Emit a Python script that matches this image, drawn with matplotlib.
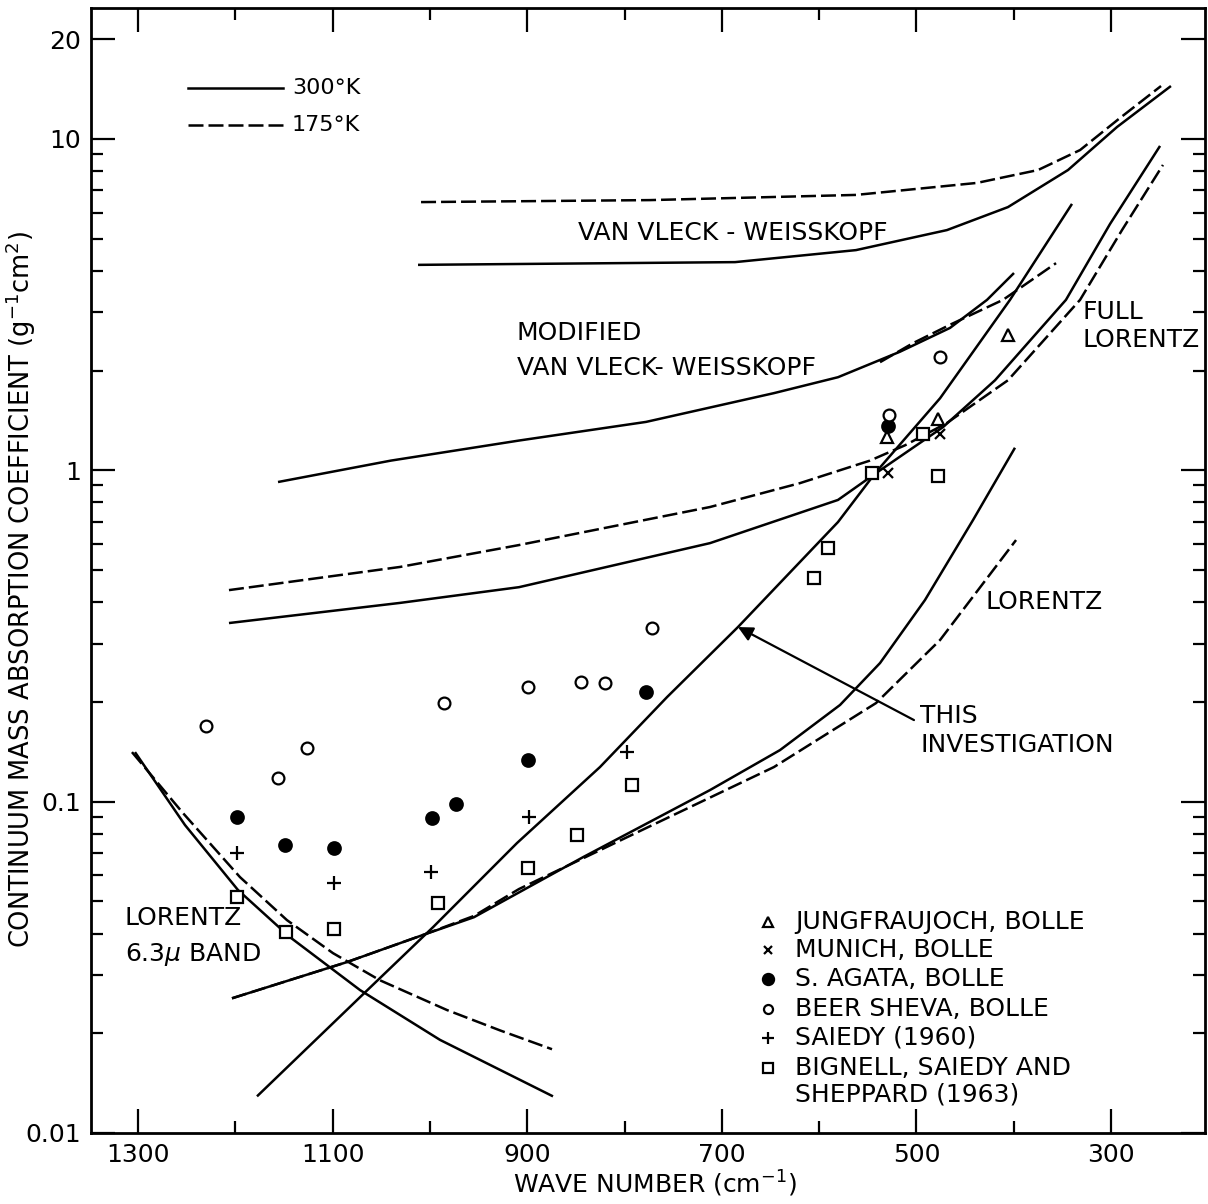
import numpy as np
import matplotlib.pyplot as plt
from matplotlib.ticker import NullFormatter

plt.rcParams['font.family'] = ['DejaVu Sans']

# ── curves (wave number in cm^-1, coefficient in g^-1 cm^2) ──────────
vvw_300_x = [1012.2, 686.4, 562.1, 468.6, 405.9, 344.2, 293.8, 238.4]
vvw_300_y = [4.17, 4.25, 4.62, 5.31, 6.23, 8.06, 10.87, 14.45]
vvw_175_x = [1009.1, 773.8, 562.1, 437.7, 375.0, 331.8, 290.8, 248.6]
vvw_175_y = [6.45, 6.54, 6.78, 7.37, 8.06, 9.26, 11.57, 14.45]

mvvw_300_x = [1156.1, 1040.0, 908.4, 777.9, 646.4, 580.6, 516.9, 465.5, 427.4, 399.7]
mvvw_300_y = [0.922, 1.07, 1.23, 1.40, 1.71, 1.91, 2.28, 2.69, 3.27, 3.94]
mvvw_175_x = [537.4, 503.5, 465.5, 411.0, 356.5]
mvvw_175_y = [2.12, 2.42, 2.75, 3.27, 4.22]

full_300_x = [1206.5, 1030.7, 908.4, 712.1, 580.6, 541.5, 472.7, 419.2, 346.3, 301.0, 249.6]
full_300_y = [0.346, 0.398, 0.444, 0.603, 0.814, 0.981, 1.35, 1.87, 3.27, 5.54, 9.53]
full_175_x = [1206.5, 1030.7, 908.4, 712.1, 619.6, 547.7, 511.7, 468.6, 405.9, 331.8, 288.7, 246.6]
full_175_y = [0.435, 0.511, 0.595, 0.775, 0.915, 1.07, 1.19, 1.39, 1.87, 3.27, 5.31, 8.35]

lor_300_x = [1203.4, 1085.2, 1007.1, 954.7, 842.6, 712.1, 640.2, 578.5, 537.4, 491.2, 441.8, 398.7]
lor_300_y = [0.0255, 0.0328, 0.0396, 0.0448, 0.068, 0.1084, 0.1431, 0.1958, 0.262, 0.406, 0.708, 1.17]
lor_175_x = [1203.4, 1085.2, 1007.1, 954.7, 908.4, 777.9, 646.4, 541.5, 475.7, 397.6]
lor_175_y = [0.0255, 0.0328, 0.0396, 0.0452, 0.0545, 0.0832, 0.1272, 0.1984, 0.3075, 0.616]

band_300_x = [1303.1, 1251.7, 1197.2, 1143.8, 1071.8, 989.6, 873.5]
band_300_y = [0.1411, 0.0850, 0.0541, 0.0390, 0.0270, 0.0191, 0.0129]
band_175_x = [1306.2, 1253.8, 1195.2, 1146.9, 1099.6, 1051.3, 982.4, 927.9, 874.5]
band_175_y = [0.1411, 0.0924, 0.0592, 0.0439, 0.0349, 0.0289, 0.0235, 0.0204, 0.0179]

this_x = [1177.7, 1071.8, 996.8, 910.5, 825.2, 756.3, 683.4, 580.6, 541.5, 475.7, 403.8, 340.1]
this_y = [0.0129, 0.0257, 0.0418, 0.0750, 0.1272, 0.2068, 0.3365, 0.698, 0.988, 1.65, 3.27, 6.37]

# ── measurements ─────────────────────────────────────────────────────
jung_x = [530.2, 477.8, 405.9]
jung_y = [1.26, 1.43, 2.56]
munich_x = [529.2, 475.7]
munich_y = [0.981, 1.29]
agata_x = [1198.3, 1148.9, 1098.6, 997.8, 973.2, 899.2, 777.9, 529.2]
agata_y = [0.0898, 0.0740, 0.0724, 0.0892, 0.0984, 0.1335, 0.2142, 1.36]
beer_x = [1230.1, 1126.3, 1156.1, 985.5, 899.2, 844.7, 820.0, 771.7, 528.2, 475.7]
beer_y = [0.169, 0.145, 0.1178, 0.1984, 0.2218, 0.2296, 0.228, 0.334, 1.47, 2.20]
saiedy_x = [1198.3, 1098.2, 998.9, 897.8, 797.7]
saiedy_y = [0.0698, 0.0567, 0.0614, 0.090, 0.1409]
bignell_x = [1198.3, 1148.2, 1098.2, 991.4, 898.9, 848.5, 792.0, 605.7, 590.6, 545.9, 492.9, 477.5]
bignell_y = [0.0516, 0.0403, 0.0414, 0.0495, 0.0632, 0.0793, 0.1122, 0.472, 0.582, 0.979, 1.29, 0.961]

x_major = [1300, 1100, 900, 700, 500, 300]
x_minor = [1200, 1000, 800, 600, 400]
y_major = [0.01, 0.1, 1, 10, 20]
y_labels = ['0.01', '0.1', '1', '10', '20']

LW = 1.8
DASH = (6, 2)

fig = plt.figure(figsize=(12.08, 12.04), dpi=100)
ax = fig.add_axes([91 / 1208, 1 - 1133 / 1204, 1114 / 1208, 1124.7 / 1204])
ax.set_yscale('log')


def solid(x, y):
    ax.plot(x, y, color='black', lw=LW, solid_capstyle='butt')


def dashed(x, y):
    ax.plot(x, y, color='black', lw=LW, dashes=DASH)


solid(vvw_300_x, vvw_300_y)
dashed(vvw_175_x, vvw_175_y)
solid(mvvw_300_x, mvvw_300_y)
dashed(mvvw_175_x, mvvw_175_y)
solid(full_300_x, full_300_y)
dashed(full_175_x, full_175_y)
solid(lor_300_x, lor_300_y)
dashed(lor_175_x, lor_175_y)
solid(band_300_x, band_300_y)
dashed(band_175_x, band_175_y)
solid(this_x, this_y)

# data points
mk = dict(linestyle='none', color='black', markeredgewidth=1.6)
ax.plot(jung_x, jung_y, marker='^', ms=8, mfc='white', **mk)
ax.plot(munich_x, munich_y, marker='x', ms=7.5, **mk)
ax.plot(agata_x, agata_y, marker='o', ms=9, mfc='black', **mk)
ax.plot(beer_x, beer_y, marker='o', ms=8.5, mfc='white', **mk)
ax.plot(saiedy_x, saiedy_y, marker='+', ms=10, **mk)
ax.plot(bignell_x, bignell_y, marker='s', ms=8, mfc='white', **mk)

# curve labels
fs = 18
ax.text(847.8, 5.2, 'VAN VLECK - WEISSKOPF', fontsize=fs, va='center')
ax.text(910.5, 2.60, 'MODIFIED', fontsize=fs, va='center')
ax.text(910.5, 2.04, 'VAN VLECK- WEISSKOPF', fontsize=fs, va='center')
ax.text(328.8, 3.0, 'FULL', fontsize=fs, va='center')
ax.text(328.8, 2.47, 'LORENTZ', fontsize=fs, va='center')
ax.text(429.5, 0.40, 'LORENTZ', fontsize=fs, va='center')
ax.text(496.3, 0.1813, 'THIS', fontsize=fs, va='center')
ax.text(496.3, 0.148, 'INVESTIGATION', fontsize=fs, va='center')
ax.text(1313.4, 0.0445, 'LORENTZ', fontsize=fs, va='center')
ax.text(1313.4, 0.0345, r'6.3$\mu$ BAND', fontsize=fs, va='center')

ax.annotate('', xy=(683.4, 0.3365), xytext=(502.5, 0.1763),
            arrowprops=dict(arrowstyle='-|>', color='black', lw=1.6,
                            mutation_scale=22, shrinkA=0, shrinkB=0))

# temperature key
ax.plot([0.0871, 0.1724], [0.9291, 0.9291], color='black', lw=LW,
        transform=ax.transAxes)
ax.plot([0.0871, 0.1724], [0.8962, 0.8962], color='black', lw=LW,
        dashes=DASH, transform=ax.transAxes)
ax.text(0.1804, 0.9291, '300°K', fontsize=16, va='center', transform=ax.transAxes)
ax.text(0.1804, 0.8962, '175°K', fontsize=16, va='center', transform=ax.transAxes)

# symbol key
key_rows = [0.1876, 0.1627, 0.1369, 0.1103, 0.0845, 0.0578]
key_marks = [('^', 'white', 6.5), ('x', 'black', 6), ('o', 'black', 8),
             ('o', 'white', 6.5), ('+', 'black', 8), ('s', 'white', 6.5)]
key_text = ['JUNGFRAUJOCH, BOLLE', 'MUNICH, BOLLE', 'S. AGATA, BOLLE',
            'BEER SHEVA, BOLLE', 'SAIEDY (1960)', 'BIGNELL, SAIEDY AND']
for yy, (m, fc, s), t in zip(key_rows, key_marks, key_text):
    ax.plot([0.6077], [yy], marker=m, ms=s, mfc=fc, transform=ax.transAxes, **mk)
    ax.text(0.632, yy, t, fontsize=fs, va='center', transform=ax.transAxes)
ax.text(0.632, 0.0338, 'SHEPPARD (1963)', fontsize=fs, va='center',
        transform=ax.transAxes)

# axes
ax.set_xlim(1348.3, 203.4)
ax.set_ylim(0.01, 24.8)
ax.set_xticks(x_major)
ax.set_xticks(x_minor, minor=True)
ax.set_yticks(y_major)
ax.set_yticklabels(y_labels)
y_minor = [k * 10.0 ** d for d in (-2, -1, 0, 1) for k in range(2, 10)]
ax.set_yticks([v for v in y_minor if v < 24.8 and v != 20], minor=True)
ax.yaxis.set_minor_formatter(NullFormatter())
ax.tick_params(which='both', direction='in', top=True, right=True,
               width=1.6, labelsize=18)
ax.tick_params(which='major', length=17, pad=7)
ax.tick_params(which='minor', length=8.5)
for sp in ax.spines.values():
    sp.set_linewidth(2)

ax.set_xlabel(r'WAVE NUMBER (cm$^{-1}$)', fontsize=18)
ax.xaxis.set_label_coords(0.506, -0.032)
ax.set_ylabel(r'CONTINUUM MASS ABSORPTION COEFFICIENT (g$^{-1}$cm$^{2}$)',
              fontsize=18.5)
ax.yaxis.set_label_coords(-0.048, 0.483)

fig.savefig('out.png', dpi=100)
